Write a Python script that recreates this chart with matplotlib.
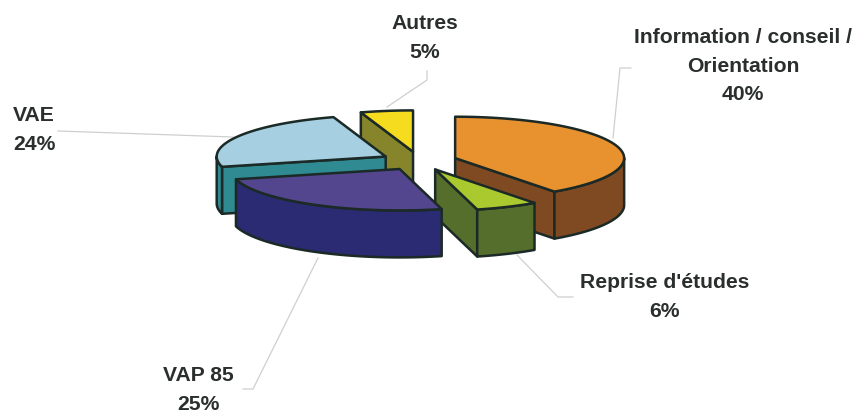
import numpy as np
import matplotlib
matplotlib.use('Agg')
import matplotlib.pyplot as plt

plt.rcParams['font.family'] = ['Liberation Sans', 'DejaVu Sans']

# pie data, clockwise from 12 o'clock
labels = ['Information / conseil /\nOrientation', "Reprise d'études", 'VAP 85', 'VAE', 'Autres']
values = [40, 6, 25, 24, 5]
top_colors = ['#E8912F', '#A9C92E', '#53468F', '#A6D0E2', '#F6DC1E']
side_colors = ['#7F4A22', '#566E2B', '#2A2B72', '#2F8A92', '#87852C']

# pixel layout
cx, cy = 419, 161
radius = 169
squash = 0.245
explode = 38
depth = 47
edge = '#1B2A26'

# text centre, then leader line, in pixels
label_pos = [(743, 66), (665, 297), (198, 390), (34, 130), (425, 38)]
leaders = [
    ([631, 620, 613], [68, 68, 138]),
    ([573, 558, 517], [297, 297, 255]),
    ([243, 253, 318], [389, 389, 258]),
    ([58, 233], [131, 137]),
    ([427, 427, 387], [71, 80, 107]),
]
draw_order = [4, 3, 0, 1, 2]


def pt(theta, r, ox, oy, dz=0):
    t = np.radians(theta)
    return ox + r * np.sin(t), oy - r * squash * np.cos(t) + dz


fig = plt.figure(figsize=(8.59, 4.12), dpi=100)
ax = fig.add_axes([0, 0, 1, 1])
ax.set_xlim(0, 859)
ax.set_ylim(412, 0)
ax.axis('off')

for xs, ys in leaders:
    ax.plot(xs, ys, color='#CFCFCF', lw=0.9, zorder=1)

edges = np.cumsum([0] + values) / sum(values) * 360

for n, i in enumerate(draw_order):
    t1, t2 = edges[i], edges[i + 1]
    mid = (t1 + t2) / 2
    ox, oy = pt(mid, explode, cx, cy)
    z = 2 + n
    style = dict(facecolor=side_colors[i], edgecolor=edge, lw=1.8, joinstyle='round', zorder=z)

    # radial side faces
    for t, visible in ((t1, np.sin(np.radians(t1)) < -1e-6), (t2, np.sin(np.radians(t2)) > 1e-6)):
        if visible:
            x, y = pt(t, radius, ox, oy)
            ax.fill([ox, x, x, ox], [oy, y, y + depth, oy + depth], **style)

    # outer wall, only the part that faces front
    a, b = max(t1, 90), min(t2, 270)
    if b > a:
        th = np.linspace(a, b, 60)
        x, y = pt(th, radius, ox, oy)
        ax.fill(np.r_[x, x[::-1]], np.r_[y, y[::-1] + depth], **style)

    # top face
    th = np.linspace(t1, t2, 120)
    x, y = pt(th, radius, ox, oy)
    ax.fill(np.r_[ox, x], np.r_[oy, y], facecolor=top_colors[i], edgecolor=edge,
            lw=1.8, joinstyle='round', zorder=z)

for i, (x, y) in enumerate(label_pos):
    ax.text(x, y, '%s\n%d%%' % (labels[i], values[i]), ha='center', va='center',
            fontsize=15.2, fontweight='bold', color='#2A2F2E', linespacing=1.62, zorder=20)

fig.savefig('out.png', dpi=100, facecolor='white')
